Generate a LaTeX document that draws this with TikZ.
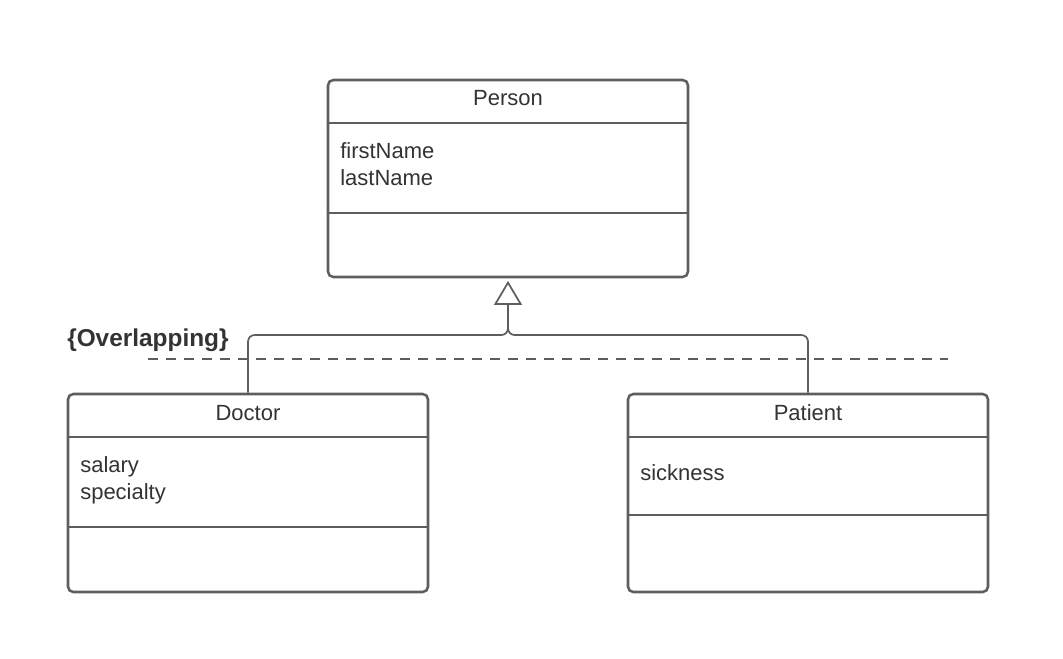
\documentclass[tikz,border=0pt]{standalone}
\usepackage{fontspec}
\setmainfont{Liberation Sans}
\usetikzlibrary{arrows.meta, positioning}
\definecolor{umlline}{RGB}{94,94,94}
\definecolor{umltext}{RGB}{51,51,51}

\begin{document}
\begin{tikzpicture}[
  x=0.75pt, y=-0.75pt,
  umlbox/.style = {
    rectangle, rounded corners=4pt, draw=umlline, line width=1.9pt,
    minimum width=270pt, inner sep=0pt
  },
  divider/.style = {draw=umlline, line width=1.9pt},
  title/.style = {font=\fontsize{16.5}{20}\selectfont, text=umltext,
    anchor=base, inner sep=0pt},
  attr/.style = {font=\fontsize{16.5}{20.3}\selectfont, text=umltext,
    align=left, anchor=base west, inner sep=0pt},
  link/.style = {draw=umlline, line width=1.3pt, rounded corners=5pt},
  gen/.style = {link, -{Triangle[open, length=18pt, width=21pt, line width=1.3pt]}, shorten >=2pt}
]
\useasboundingbox (0,0) rectangle (1063,658);

% classes
\node[umlbox, minimum height=147.75pt] (person)  at (508,178.5) {};
\node[umlbox, minimum height=148.5pt]  (doctor)  at (248,493)   {};
\node[umlbox, minimum height=148.5pt]  (patient) at (808,493)   {};

% compartments
\draw[divider] (person.west |- 0,123) -- (person.east |- 0,123);
\draw[divider] (person.west |- 0,213) -- (person.east |- 0,213);
\draw[divider] (doctor.west |- 0,437) -- (doctor.east |- 0,437);
\draw[divider] (doctor.west |- 0,527) -- (doctor.east |- 0,527);
\draw[divider] (patient.west |- 0,437) -- (patient.east |- 0,437);
\draw[divider] (patient.west |- 0,515) -- (patient.east |- 0,515);

% texts (base = last line)
\node[title] (personname)  at (508,105.5) {Person};
\node[title] (doctorname)  at (248,420)   {Doctor};
\node[title] (patientname) at (808,420)   {Patient};
\node[attr] (personattr)  at (340,185.5) {firstName\\lastName};
\node[attr] (doctorattr)  at (80,499.5)  {salary\\specialty};
\node[attr] (patientattr) at (640,480)   {sickness};

% generalization
\coordinate (joint) at (508,335);
\coordinate (stem)  at (508,310);
\draw[link] (patient.north) |- (joint) -- (stem);
\draw[gen]  (doctor.north) |- (joint) -- (person.south);

% constraint
\coordinate (dashl) at (148,359);
\coordinate (dashr) at (948,359);
\draw[draw=umlline, line width=1.2pt, dash pattern=on 7.5pt off 6pt] (dashl) -- (dashr);
\node[font=\fontsize{18.3}{22}\bfseries, text=umltext, anchor=base west, inner sep=0pt] (overlap) at (67,346) {\{Overlapping\}};
\end{tikzpicture}
\end{document}
